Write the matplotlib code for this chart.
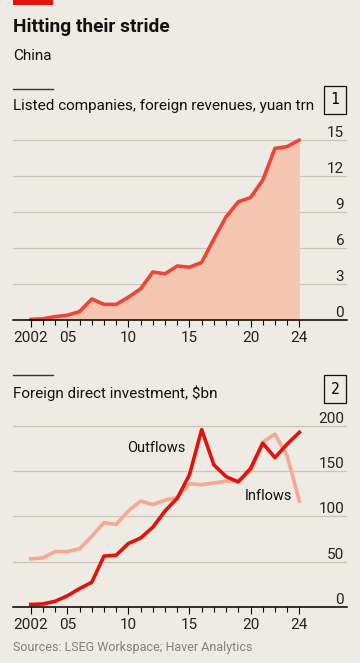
import matplotlib.pyplot as plt
from matplotlib.lines import Line2D
from matplotlib.patches import Rectangle

years = list(range(2002, 2025))
revenues = [0.05, 0.1, 0.28, 0.4, 0.7, 1.75, 1.3, 1.3, 1.9, 2.6, 4.0, 3.85, 4.5, 4.4,
            4.8, 6.75, 8.6, 9.85, 10.2, 11.65, 14.3, 14.45, 15.0]
outflows = [2.5, 3, 6, 12, 20, 27, 56, 57, 70, 76, 88, 106, 120, 146,
            196, 157, 144, 138, 153, 181, 165, 180, 193]
inflows = [53, 54, 61, 61, 64, 78, 93, 91, 106, 117, 113, 118, 121, 136,
           135, 137, 139, 140, 150, 182, 191, 167, 117]
year_ticks = [2002, 2005, 2010, 2015, 2020, 2024]
year_labels = ["2002", "05", "10", "15", "20", "24"]

BG = "#EDEBE4"
W, H = 360, 663
plt.rcParams['font.family'] = ['Roboto', 'DejaVu Sans']

fig = plt.figure(figsize=(W / 100, H / 100), dpi=100, facecolor=BG)


def rect(x0, y_top, x1, y_bot):
    return [x0 / W, 1 - y_bot / H, (x1 - x0) / W, (y_bot - y_top) / H]


def style_axes(ax, yticks):
    ax.set_facecolor("none")
    for s in ["top", "right", "left"]:
        ax.spines[s].set_visible(False)
    ax.spines["bottom"].set_linewidth(1.1)
    ax.set_xlim(2000.55, 2027.9)
    ax.set_xticks(years, minor=True)
    ax.set_xticks(year_ticks)
    ax.set_xticklabels(year_labels, fontsize=11, color="#222222")
    ax.tick_params(axis="x", which="major", length=5, width=0.8, pad=3)
    ax.tick_params(axis="x", which="minor", length=3.5, width=0.8)
    ax.set_yticks(yticks)
    ax.yaxis.grid(True, color="#C8C5BD", lw=0.9)
    ax.set_axisbelow(True)
    ax.tick_params(axis="y", left=False, right=False, labelleft=False,
                   labelright=True, length=0, pad=-2, labelsize=11,
                   labelcolor="#222222")
    for t in ax.yaxis.get_majorticklabels():
        t.set_horizontalalignment("right")
        t.set_verticalalignment("bottom")


# top decoration
fig.add_artist(Rectangle((13 / W, 1 - 5 / H), 40 / W, 5 / H,
                         transform=fig.transFigure, color="#E3120B", lw=0))
fig.text(13 / W, 1 - 27 / H, "Hitting their stride", fontsize=13.8,
         fontweight="bold", color="#111111", va="center")
fig.text(13 / W, 1 - 56 / H, "China", fontsize=11, color="#111111", va="center")

# panel 1
fig.add_artist(Line2D([13 / W, 53 / W], [1 - 89 / H] * 2, color="#333333", lw=1))
fig.text(13 / W, 1 - 106 / H, "Listed companies, foreign revenues, yuan trn",
         fontsize=11, color="#111111", va="center")
fig.text(335 / W, 1 - 100 / H, "1", fontsize=10.5, family="DejaVu Sans Mono",
         ha="center", va="center",
         bbox=dict(boxstyle="square,pad=0.45", fc="none", ec="#111111", lw=0.9))

ax1 = fig.add_axes(rect(13, 132.8, 347, 320))
ax1.fill_between(years, revenues, 0, color="#F6C5B2", lw=0)
ax1.plot(years, revenues, color="#EE4536", lw=2.6, solid_capstyle="round",
         clip_on=False)
ax1.set_ylim(0, 15.6)
style_axes(ax1, [0, 3, 6, 9, 12, 15])

# panel 2
fig.add_artist(Line2D([13 / W, 53 / W], [1 - 375 / H] * 2, color="#333333", lw=1))
fig.text(13 / W, 1 - 393 / H, "Foreign direct investment, $bn",
         fontsize=11, color="#111111", va="center")
fig.text(335 / W, 1 - 389 / H, "2", fontsize=10.5, family="DejaVu Sans Mono",
         ha="center", va="center",
         bbox=dict(boxstyle="square,pad=0.45", fc="none", ec="#111111", lw=0.9))

ax2 = fig.add_axes(rect(13, 412, 347, 606.7))
ax2.plot(years, inflows, color="#F5A892", lw=2.6, clip_on=False)
ax2.plot(years, outflows, color="#E3120B", lw=2.6, clip_on=False)
ax2.set_ylim(0, 215.5)
style_axes(ax2, [0, 50, 100, 150, 200])
ax2.text(2012.3, 176, "Outflows", fontsize=10.5, color="#111111",
         ha="center", va="center")
ax2.text(2023.4, 122.5, "Inflows", fontsize=10.5, color="#111111",
         ha="right", va="center")

fig.text(13 / W, 1 - 647 / H, "Sources: LSEG Workspace; Haver Analytics",
         fontsize=9, color="#808080", va="center")

fig.savefig("out.png", dpi=100, facecolor=BG)
